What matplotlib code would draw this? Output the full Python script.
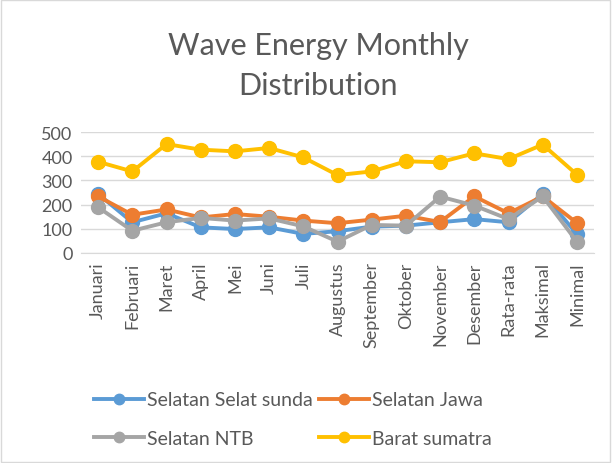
import matplotlib
matplotlib.use("Agg")
from matplotlib import pyplot as plt
from matplotlib.patches import Rectangle

plt.rcParams["font.family"] = ["Lato", "DejaVu Sans"]

months = ["Januari", "Februari", "Maret", "April", "Mei", "Juni", "Juli",
          "Augustus", "September", "Oktober", "November", "Desember",
          "Rata-rata", "Maksimal", "Minimal"]

selat_sunda = [244, 127, 164, 106, 99, 106, 79, 90, 109, 113, 127, 140, 127, 244, 79]
selatan_jawa = [234, 158, 180, 147, 161, 150, 134, 123, 138, 154, 128, 234, 164, 234, 124]
selatan_ntb = [189, 92, 127, 145, 134, 143, 110, 47, 116, 113, 233, 196, 140, 234, 47]
barat_sumatra = [377, 337, 450, 427, 420, 434, 395, 322, 337, 379, 375, 412, 388, 448, 324]

series = [
    ("Selatan Selat sunda", selat_sunda, "#5B9BD5"),
    ("Selatan Jawa", selatan_jawa, "#ED7D31"),
    ("Selatan NTB", selatan_ntb, "#A5A5A5"),
    ("Barat sumatra", barat_sumatra, "#FFC000"),
]

text_color = "#595959"

fig = plt.figure(figsize=(6.14, 4.64), dpi=100)
ax = fig.add_axes([81 / 614, 1 - 254 / 464, (594 - 81) / 614, (254 - 133) / 464])

x = range(len(months))
lines = []
for name, vals, col in series:
    ln, = ax.plot(x, vals, color=col, lw=2.8, marker="o", markersize=10, label=name)
    lines.append(ln)

ax.set_xlim(-0.5, len(months) - 0.5)
ax.set_ylim(0, 500)
ax.set_yticks(range(0, 501, 100))
ax.set_xticks(list(x))
ax.set_xticklabels(months, rotation=90, fontsize=13, color=text_color)
ax.tick_params(axis="y", labelsize=13, labelcolor=text_color, length=0, pad=6)
ax.tick_params(axis="x", length=0, pad=6)
ax.grid(axis="y", color="#D9D9D9", lw=1)
ax.set_axisbelow(True)
for side in ["top", "right", "left"]:
    ax.spines[side].set_visible(False)
ax.spines["bottom"].set_color("#D9D9D9")

fig.text(318 / 614, 1 - 66 / 464, "Wave Energy Monthly\nDistribution", ha="center", va="center",
         fontsize=22, color=text_color, linespacing=1.55)

# legend filled row by row like the original
order = [0, 2, 1, 3]
fig.legend([lines[i] for i in order], [series[i][0] for i in order],
           loc="upper left", bbox_to_anchor=(76 / 614, 1 - 375 / 464), ncol=2, frameon=False,
           fontsize=14, labelcolor=text_color, handlelength=2.6, handletextpad=0.15,
           columnspacing=0.3, labelspacing=1.1, markerscale=0.75)

fig.patches.append(Rectangle((0.001, 0.002), 0.992, 0.996, transform=fig.transFigure,
                             fill=False, edgecolor="#D9D9D9", lw=1))

fig.savefig("out.png", dpi=100)
